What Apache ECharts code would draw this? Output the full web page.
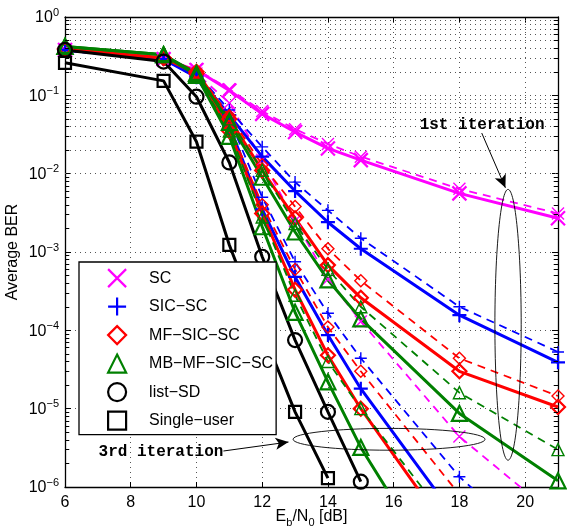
<!DOCTYPE html>
<html><head><meta charset="utf-8">
<script src="https://cdn.jsdelivr.net/npm/echarts@6.0.0/dist/echarts.min.js"></script>
<style>html,body{margin:0;padding:0;background:#fff}#c{width:567px;height:531px}</style>
</head><body><div id="c"></div>
<script>
// ---- data ----
const snr = [6, 9, 10, 11, 12, 13, 14, 15, 18, 21];
// 1st iteration
const scSolid1  = [0.38, 0.29, 0.21, 0.115, 0.058, 0.034, 0.021, 0.0149, 0.0056, 0.0027];
const scDash1   = [0.38, 0.29, 0.215, 0.12, 0.063, 0.037, 0.024, 0.0165, 0.0064, 0.0031];
const sicSolid1 = [0.38, 0.29, 0.18, 0.056, 0.0165, 0.006, 0.0024, 0.0011, 1.56e-4, 3.9e-5];
const sicDash1  = [0.38, 0.29, 0.19, 0.065, 0.022, 0.0078, 0.0034, 0.0015, 2.0e-4, 5.3e-5];
const mfSolid1  = [0.39, 0.30, 0.20, 0.05, 0.011, 2.7e-3, 6.8e-4, 2.6e-4, 3.0e-5, 1.05e-5];
const mfDash1   = [0.39, 0.30, 0.20, 0.055, 0.013, 3.8e-3, 1.1e-3, 4.3e-4, 4.4e-5, 1.45e-5];
const mbSolid1  = [0.42, 0.33, 0.19, 0.045, 9e-3, 1.8e-3, 4.4e-4, 1.4e-4, 8.7e-6, 1.2e-6];
const mbDash1   = [0.42, 0.33, 0.19, 0.05, 0.011, 2.3e-3, 6e-4, 2e-4, 1.6e-5, 3e-6];
// 3rd iteration
const scDash3   = [0.38, 0.29, 0.19, 0.08, 0.015, 2.5e-3, 4.5e-4, 1.3e-4, 4.4e-6, 4e-7];
const sicSolid3 = [0.38, 0.29, 0.17, 0.04, 3.5e-3, 4.8e-4, 8.7e-5, 1.8e-5, 3.5e-7];
const sicDash3  = [0.38, 0.29, 0.18, 0.05, 5e-3, 7.5e-4, 1.65e-4, 4.4e-5, 1.35e-6, 1e-7];
const mfSolid3  = [0.39, 0.30, 0.19, 0.035, 3.1e-3, 3.3e-4, 4.8e-5, 1e-5, 1.7e-7];
const mfDash3   = [0.39, 0.30, 0.19, 0.04, 4e-3, 6e-4, 1.1e-4, 3e-5, 8e-7];
const mbSolid3  = [0.42, 0.33, 0.18, 0.03, 2.1e-3, 1.7e-4, 2.2e-5, 3.2e-6, 3e-8];
const mbDash3   = [0.42, 0.33, 0.18, 0.035, 2.8e-3, 2.8e-4, 4e-5, 1e-5, 2.4e-7];
// references
const listSD     = [0.38, 0.27, 0.096, 0.0139, 8.7e-4, 7.5e-5, 9.1e-6, 1.17e-6];
const singleUser = [0.26, 0.153, 0.0256, 1.23e-3, 1.0e-4, 9.1e-6, 1.3e-6];

const legendNames = ['SC', 'SIC\u2212SC', 'MF\u2212SIC\u2212SC', 'MB\u2212MF\u2212SIC\u2212SC', 'list\u2212SD', 'Single\u2212user'];
const xTicksMin = 6, xTicksMax = 21, xInterval = 2;
const yMin = 1e-6, yMax = 1;

// annotations (data units)
const ann1Text = '1st iteration', ann3Text = '3rd iteration';
const ell1 = {x0: 19.08, x1: 19.88, y0: 2.2e-6, y1: 6.3e-3};
const ell3 = {x0: 12.94, x1: 18.78, y0: 2.95e-6, y1: 5.6e-6};
const txt1 = [18.69, 0.0417], txt3 = [8.92, 2.78e-6];
const arr1 = [[18.68, 0.033], [19.4, 6.6e-3]];
const arr3 = [[10.82, 2.88e-6], [12.8, 3.75e-6]];

// ---- styling ----
const FONT = 'Liberation Sans';
const C = {m: '#ff00ff', b: '#0000ff', r: '#ff0000', g: '#008000', k: '#000000'};
const XPATH = 'path://M0,0L10,10M10,0L0,10';
const PPATH = 'path://M5,0L5,10M0,5L10,5';

function mk(name, vals, color, sym, solid) {
  return {
    name: name, type: 'line',
    data: vals.map((v, i) => [snr[i], v]),
    symbol: sym, symbolSize: solid ? 14 : 12,
    lineStyle: {color: color, width: solid ? 3 : 1.8, type: solid ? 'solid' : [8, 6]},
    itemStyle: {color: 'rgba(0,0,0,0)', borderColor: color, borderWidth: solid ? 2.2 : 1.4},
    emphasis: {disabled: true}, clip: true, z: 3
  };
}

const series = [
  mk('SC 1st dashed', scDash1, C.m, XPATH, false),
  mk('SC 3rd dashed', scDash3, C.m, XPATH, false),
  mk(legendNames[0], scSolid1, C.m, XPATH, true),
  mk('SIC 1st dashed', sicDash1, C.b, PPATH, false),
  mk('SIC 3rd dashed', sicDash3, C.b, PPATH, false),
  mk(legendNames[1], sicSolid1, C.b, PPATH, true),
  mk('SIC 3rd solid', sicSolid3, C.b, PPATH, true),
  mk('MF 1st dashed', mfDash1, C.r, 'diamond', false),
  mk('MF 3rd dashed', mfDash3, C.r, 'diamond', false),
  mk(legendNames[2], mfSolid1, C.r, 'diamond', true),
  mk('MF 3rd solid', mfSolid3, C.r, 'diamond', true),
  mk('MB 1st dashed', mbDash1, C.g, 'triangle', false),
  mk('MB 3rd dashed', mbDash3, C.g, 'triangle', false),
  mk(legendNames[3], mbSolid1, C.g, 'triangle', true),
  mk('MB 3rd solid', mbSolid3, C.g, 'triangle', true),
  mk(legendNames[4], listSD, C.k, 'circle', true),
  mk(legendNames[5], singleUser, C.k, 'rect', true)
];
series[13].symbolSize = 15; series[14].symbolSize = 15;
series[15].symbolSize = 14; series[16].symbolSize = 12;

// minor grid lines & minor ticks (through the y scale)
const minorVals = [];
for (let e = -6; e < 0; e++) for (let m = 2; m <= 9; m++) minorVals.push(m * Math.pow(10, e));
const gridLines = minorVals.map(v => ({yAxis: v}));
const tickLines = [];
minorVals.forEach(v => {
  tickLines.push([{coord: [6, v]}, {coord: [6.13, v]}]);
  tickLines.push([{coord: [20.87, v]}, {coord: [21, v]}]);
});
series.push({
  name: '_grid', type: 'line', data: [], silent: true, z: 1,
  markLine: {silent: true, z: 1, symbol: ['none', 'none'], label: {show: false}, animation: false,
    lineStyle: {color: '#555', width: 1, type: [1, 4]}, emphasis: {disabled: true},
    data: gridLines}
});
series.push({
  name: '_ticks', type: 'line', data: [], silent: true, z: 4,
  markLine: {silent: true, z: 4, symbol: ['none', 'none'], label: {show: false}, animation: false,
    lineStyle: {color: '#000', width: 1, type: 'solid'}, emphasis: {disabled: true},
    data: tickLines}
});
series.push({
  name: '_arrows', type: 'line', data: [], silent: true, z: 6,
  markLine: {silent: true, z: 6, symbol: ['none', 'arrow'], symbolSize: [9, 13], label: {show: false}, animation: false,
    lineStyle: {color: '#000', width: 1, type: 'solid'}, emphasis: {disabled: true},
    data: [[{coord: arr1[0]}, {coord: arr1[1]}], [{coord: arr3[0]}, {coord: arr3[1]}]]}
});

const legendIcons = [XPATH, PPATH, 'diamond', 'triangle', 'circle', 'rect'];
const legendColors = [C.m, C.b, C.r, C.g, C.k, C.k];

function supFmt(v) {
  const e = Math.round(Math.log10(v));
  return '{b|10}{s|' + (e < 0 ? '\u2212' + (-e) : e) + '}';
}

const option = {
  animation: false,
  backgroundColor: '#fff',
  grid: {left: 65, right: 9, top: 17, bottom: 44, show: false, containLabel: false, outerBoundsMode: 'none'},
  legend: {
    orient: 'vertical', left: 79, top: 262,
    itemWidth: 18, itemHeight: 18, itemGap: 8.3,
    symbolKeepAspect: true,
    padding: [6, 3, 4, 28],
    backgroundColor: '#fff', borderColor: '#000', borderWidth: 1.3, borderRadius: 0,
    selectedMode: false,
    textStyle: {fontFamily: FONT, fontSize: 16, color: '#000', lineHeight: 18, padding: [0, 0, 0, 18]},
    data: legendNames.map((n, i) => ({
      name: n, icon: legendIcons[i],
      itemStyle: {color: 'rgba(0,0,0,0)', borderColor: legendColors[i], borderWidth: 2.2}
    }))
  },
  xAxis: [{
    type: 'value', min: xTicksMin, max: xTicksMax, interval: xInterval, position: 'bottom',
    axisLine: {show: true, onZero: false, lineStyle: {color: '#000', width: 1.3}},
    axisTick: {show: true, inside: true, length: 5, lineStyle: {color: '#000', width: 1}},
    axisLabel: {fontFamily: FONT, fontSize: 16, color: '#000', margin: 8, showMaxLabel: false},
    splitLine: {show: true, lineStyle: {color: '#555', width: 1, type: [1, 4]}},
    name: '{n|E}{d|b}{n|/N}{d|0}{n| [dB]}', nameLocation: 'middle', nameGap: 22, nameMoveOverlap: false,
    nameTextStyle: {rich: {
      n: {fontFamily: FONT, fontSize: 16, color: '#000', lineHeight: 18, verticalAlign: 'top'},
      d: {fontFamily: FONT, fontSize: 11, color: '#000', lineHeight: 12, padding: [8, 0, 0, 0], verticalAlign: 'top'}
    }}
  }, {
    type: 'value', min: xTicksMin, max: xTicksMax, interval: xInterval, position: 'top',
    axisLine: {show: true, onZero: false, lineStyle: {color: '#000', width: 1.3}},
    axisTick: {show: true, inside: true, length: 5, lineStyle: {color: '#000', width: 1}},
    axisLabel: {show: false}, splitLine: {show: false}
  }],
  yAxis: [{
    type: 'log', logBase: 10, min: yMin, max: yMax, position: 'left',
    axisLine: {show: true, onZero: false, lineStyle: {color: '#000', width: 1.3}},
    axisTick: {show: true, inside: true, length: 6, lineStyle: {color: '#000', width: 1}},
    minorTick: {show: false}, minorSplitLine: {show: false},
    axisLabel: {formatter: supFmt, margin: 6, rich: {
      b: {fontFamily: FONT, fontSize: 16, color: '#000', lineHeight: 18, verticalAlign: 'bottom'},
      s: {fontFamily: FONT, fontSize: 11, color: '#000', lineHeight: 13, padding: [0, 0, 8, 0], verticalAlign: 'bottom'}
    }},
    splitLine: {show: true, lineStyle: {color: '#555', width: 1, type: [1, 4]}},
    name: 'Average BER', nameLocation: 'middle', nameGap: 44, nameRotate: 90, nameMoveOverlap: false,
    nameTextStyle: {fontFamily: FONT, fontSize: 16, color: '#000'}
  }, {
    type: 'log', logBase: 10, min: yMin, max: yMax, position: 'right',
    axisLine: {show: true, onZero: false, lineStyle: {color: '#000', width: 1.3}},
    axisTick: {show: true, inside: true, length: 6, lineStyle: {color: '#000', width: 1}},
    axisLabel: {show: false}, splitLine: {show: false}
  }],
  series: series
};

const chart = echarts.init(document.getElementById('c'), null, {renderer: 'canvas'});
chart.setOption(option);

const P = (x, y) => chart.convertToPixel({xAxisIndex: 0, yAxisIndex: 0}, [x, y]);
function ellipseOf(e) {
  const a = P(e.x0, e.y0), b = P(e.x1, e.y1);
  return {type: 'ellipse', silent: true, z: 100,
    shape: {cx: (a[0] + b[0]) / 2, cy: (a[1] + b[1]) / 2, rx: Math.abs(b[0] - a[0]) / 2, ry: Math.abs(b[1] - a[1]) / 2},
    style: {fill: 'none', stroke: '#000', lineWidth: 0.9}};
}
function textOf(t, pos) {
  const p = P(pos[0], pos[1]);
  return {type: 'text', silent: true, z: 100, x: p[0], y: p[1],
    style: {text: t, font: 'bold 16px "Liberation Mono"', fill: '#000', align: 'center', verticalAlign: 'middle'}};
}
chart.setOption({graphic: [ellipseOf(ell1), ellipseOf(ell3), textOf(ann1Text, txt1), textOf(ann3Text, txt3)]});
</script></body></html>
